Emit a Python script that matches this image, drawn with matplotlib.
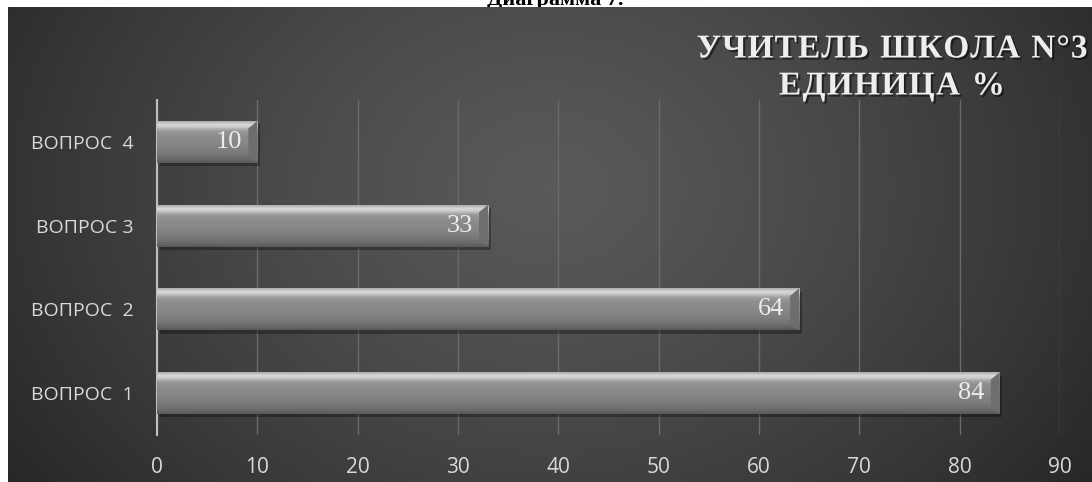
import matplotlib
matplotlib.use("Agg")
import matplotlib.pyplot as plt
import matplotlib.patheffects as pe
import numpy as np

# %% Data.
categories = ["ВОПРОС  1", "ВОПРОС  2", "ВОПРОС 3", "ВОПРОС  4"]
values = [84, 64, 33, 10]
x_ticks = [0, 10, 20, 30, 40, 50, 60, 70, 80, 90]
title_lines = ["УЧИТЕЛЬ ШКОЛА N°3", "ЕДИНИЦА %"]
caption = "Диаграмма 7."

W, H = 1092, 482
fig = plt.figure(figsize=(W / 100, H / 100), dpi=100, facecolor="white")

# caption above the chart, mostly hidden behind the panel
fig.text(555 / W, 1 - 10 / H, caption, ha="center", va="bottom", fontsize=16,
         fontweight="bold", family="Liberation Serif", color="black", zorder=-5)

# %% Background panel with a soft radial gradient.
bg = fig.add_axes([8 / W, 0, 1 - 8 / W, 1 - 7 / H], zorder=0)
yy, xx = np.mgrid[0:1:200j, 0:1:400j]
r = np.sqrt(((xx - 0.5) / 0.62) ** 2 + ((yy - 0.62) / 1.1) ** 2)
shade = 0.35 - 0.2 * np.clip(r, 0, 1) ** 1.3
bg.imshow(np.dstack([shade] * 3), extent=(0, 1, 0, 1), origin="lower", aspect="auto")
bg.set_axis_off()

# %% Main axes.
ax = fig.add_axes([157 / W, 1 - 435 / H, (1060 - 157) / W, (435 - 100) / H], zorder=1)
ax.patch.set_alpha(0)
ypos = np.arange(len(categories))
height = 0.5

ax.barh(ypos, values, height=height, color="#7a7a7a", zorder=2)
grad = np.array([0.36, 0.40, 0.43, 0.45, 0.47, 0.49, 0.50, 0.51, 0.52, 0.53,
                 0.54, 0.54, 0.55, 0.56, 0.58, 0.62, 0.72, 0.82, 0.84, 0.70])[:, None]
for y, v in zip(ypos, values):
    # shadow
    ax.add_patch(plt.Rectangle((0.25, y - height / 2 - 0.04), v, height,
                               color="black", alpha=0.3, zorder=1.5, lw=0))
    # vertical shading across the bar
    ax.imshow(np.dstack([grad] * 3), extent=(0, v, y - height / 2, y + height / 2),
              origin="lower", aspect="auto", interpolation="bilinear", zorder=3)
    # bevelled right end
    ax.fill([v - 0.9, v, v, v - 0.9],
            [y + height / 2 - 0.09, y + height / 2, y - height / 2, y - height / 2 + 0.07],
            color="#6e6e6e", zorder=4, lw=0)
    ax.text(v - 1.5, y, str(v), ha="right", va="center", fontsize=19,
            family="Liberation Serif", color="#ececec", zorder=5)

ax.set_xlim(0, 90)
ax.set_ylim(-0.5, 3.5)
ax.set_xticks(x_ticks)
ax.set_yticks(ypos)
ax.set_yticklabels(categories)
ax.tick_params(axis="both", length=0, colors="#d9d9d9", labelfontfamily="Open Sans")
ax.tick_params(axis="x", pad=16, labelsize=15)
ax.tick_params(axis="y", pad=17, labelsize=14)
ax.grid(axis="x", color="#6a6a6a", lw=1, zorder=0)
ax.set_axisbelow(True)
for side in ["top", "right", "bottom"]:
    ax.spines[side].set_visible(False)
ax.spines["left"].set_color("#bfbfbf")
ax.spines["left"].set_linewidth(1.5)

# %% Title, letter-spaced by hand.
renderer = fig.canvas.get_renderer()
title_props = dict(fontsize=24, fontweight="bold", family="Liberation Serif",
                   color="#eeeeee", va="center", ha="left", zorder=5,
                   path_effects=[pe.withSimplePatchShadow(offset=(1.5, -1.5),
                                                          shadow_rgbFace="black", alpha=0.5)])
title_widths = [391, 226]
title_centres = [49, 86]
for line, target, yc in zip(title_lines, title_widths, title_centres):
    chars = [fig.text(0, 1 - yc / H, ch, **title_props) for ch in line]
    widths = [t.get_window_extent(renderer).width if ch != " " else 9
              for t, ch in zip(chars, line)]
    gap = (target - sum(widths)) / (len(line) - 1)
    x = 892 - target / 2
    for t, w in zip(chars, widths):
        t.set_x(x / W)
        x += w + gap

fig.savefig("out.png", dpi=100, facecolor="white")
